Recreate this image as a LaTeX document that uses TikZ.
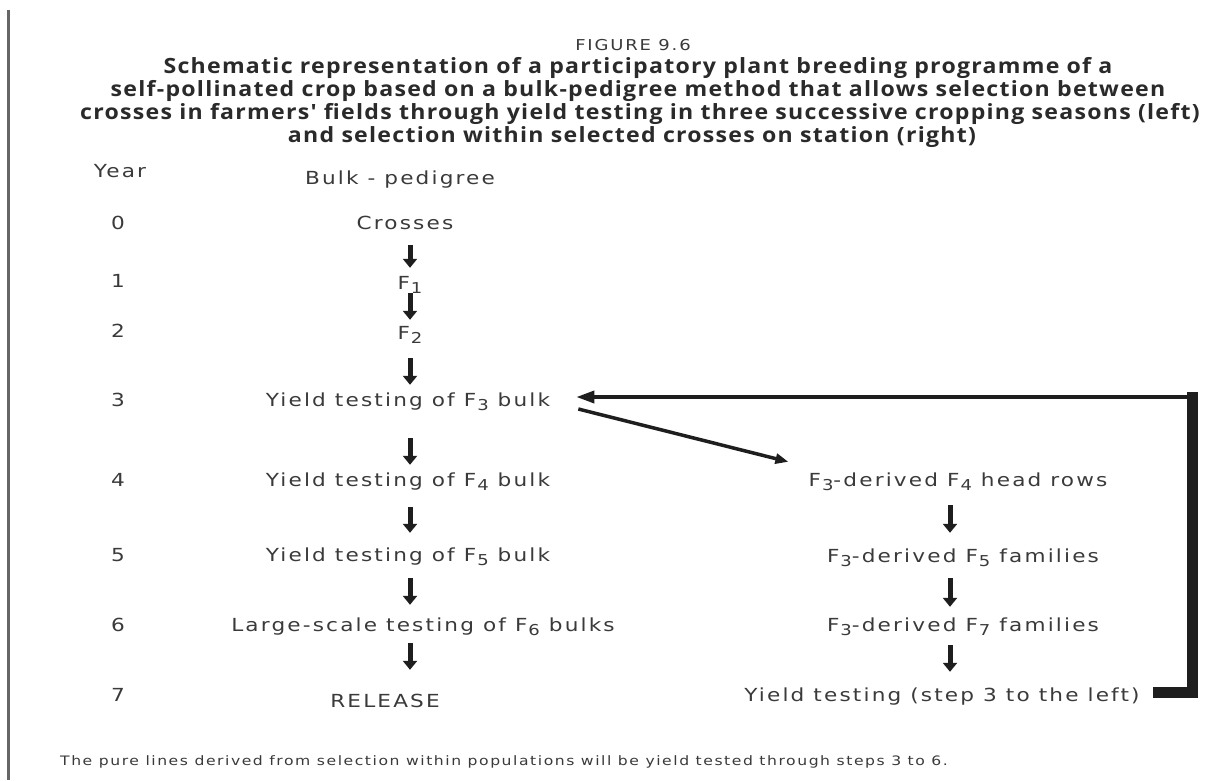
\documentclass[tikz,border=0pt]{standalone}
\usepackage{fontspec}
\usetikzlibrary{arrows.meta,calc}
\newfontfamily\bodyf[FakeStretch=1.2,LetterSpace=12]{DejaVu Sans}
\newfontfamily\titlef[FakeStretch=1.1,LetterSpace=6]{Open Sans}
\definecolor{txt}{HTML}{3A3A3A}
\definecolor{ttl}{HTML}{2A2A2A}
\definecolor{arr}{HTML}{1E1E1E}
\newcommand{\sub}[1]{\kern1pt\raisebox{-4pt}{\fontsize{15}{15}\selectfont #1}}
\tikzset{
  lbl/.style={font=\bodyf\fontsize{18}{21}\selectfont, text=txt, inner sep=0pt, text height=12pt, text depth=4pt, anchor=center},
  yr/.style={lbl},
  ttlline/.style={font=\titlef\bfseries\fontsize{21}{23}\selectfont, text=ttl, inner sep=0pt, anchor=center},
  dar/.style={draw=arr, line width=5pt, -{Triangle[width=14pt,length=9pt]}},
  arrT/.style={draw=arr, line width=3.5pt, -{Triangle[width=12pt,length=18pt]}},
  arrD/.style={draw=arr, line width=3.5pt, -{Triangle[width=10pt,length=13pt]}},
}
\begin{document}
\begin{tikzpicture}[x=1pt,y=-1pt]
\useasboundingbox (0,0) rectangle (1230,780);
\fill[white] (0,0) rectangle (1230,780);
\draw[line width=3pt, draw=black!60] (8,10) -- (8,780);

% title
\node[font=\bodyf\fontsize{15}{17}\selectfont, text=txt, inner sep=0pt] (fig) at (633,45) {FIGURE 9.6};
\node[ttlline] (t1) at (638,68) {Schematic representation of a participatory plant breeding programme of a};
\node[ttlline] (t2) at (638,91) {self-pollinated crop based on a bulk-pedigree method that allows selection between};
\node[ttlline] (t3) at (640,114) {crosses in farmers' fields through yield testing in three successive cropping seasons (left)};
\node[ttlline] (t4) at (632,137) {and selection within selected crosses on station (right)};

% headers
\node[yr] (year) at (120,173) {Year};
\node[lbl] (bp) at (400,180) {Bulk - pedigree};

% year numbers
\node[yr] (y0) at (118,225) {0};
\node[yr] (y1) at (118,283) {1};
\node[yr] (y2) at (118,333) {2};
\node[yr] (y3) at (118,402) {3};
\node[yr] (y4) at (118,482) {4};
\node[yr] (y5) at (118,557) {5};
\node[yr] (y6) at (118,627) {6};
\node[yr] (y7) at (118,697) {7};

% left column
\node[lbl] (crosses) at (405,225) {Crosses};
\node[lbl] (f1) at (410,285) {F\sub{1}};
\node[lbl] (f2) at (410,335) {F\sub{2}};
\node[lbl] (b3) at (408,402) {Yield testing of F\sub{3} bulk};
\node[lbl] (b4) at (408,482) {Yield testing of F\sub{4} bulk};
\node[lbl] (b5) at (408,557) {Yield testing of F\sub{5} bulk};
\node[lbl] (b6) at (423,627) {Large-scale testing of F\sub{6} bulks};
\node[lbl] (rel) at (385,703) {RELEASE};

% right column
\node[lbl] (r4) at (958,482) {F\sub{3}-derived F\sub{4} head rows};
\node[lbl] (r5) at (963,558) {F\sub{3}-derived F\sub{5} families};
\node[lbl] (r7) at (963,627) {F\sub{3}-derived F\sub{7} families};
\node[lbl] (ry) at (942,697) {Yield testing (step 3 to the left)};

\coordinate (colL) at (410,0);
\coordinate (colR) at (950,0);

% left arrows
\draw[dar, shorten <=12pt, shorten >=9pt] (crosses.south -| colL) -- (f1.north -| colL);
\draw[dar, shorten <=0pt, shorten >=7pt] (f1.south -| colL) -- (f2.north -| colL);
\draw[dar, shorten <=15pt, shorten >=9pt] (f2.south -| colL) -- (b3.north -| colL);
\draw[dar, shorten <=28pt, shorten >=9pt] (b3.south -| colL) -- (b4.north -| colL);
\draw[dar, shorten <=17pt, shorten >=16pt] (b4.south -| colL) -- (b5.north -| colL);
\draw[dar, shorten <=13pt, shorten >=14pt] (b5.south -| colL) -- (b6.north -| colL);
\draw[dar, shorten <=8pt, shorten >=25pt] (b6.south -| colL) -- (rel.north -| colL);

% right arrows
\draw[dar, shorten <=15pt, shorten >=17pt] (r4.south -| colR) -- (r5.north -| colR);
\draw[dar, shorten <=12pt, shorten >=12pt] (r5.south -| colR) -- (r7.north -| colR);
\draw[dar, shorten <=10pt, shorten >=17pt] (r7.south -| colR) -- (ry.north -| colR);

% diagonal arrow from F3 bulk to head rows
\draw[arrD] ([xshift=28pt,yshift=-7pt]b3.east) -- ([xshift=-20pt,yshift=12pt]r4.north west);

% return bracket
\coordinate (brtop) at (1192,397);
\coordinate (brbot) at (1192,692);
\fill[arr] (1187,392) rectangle (1198,698);
\fill[arr] (1153,687) rectangle (1198,698);
\draw[arrT] (brtop) -- ([xshift=26pt] b3.east |- brtop);

% footnote
\node[font=\bodyf\fontsize{13}{15}\selectfont, text=txt, inner sep=0pt, anchor=west] (note) at (60,762) {The pure lines derived from selection within populations will be yield tested through steps 3 to 6.};
\end{tikzpicture}
\end{document}
